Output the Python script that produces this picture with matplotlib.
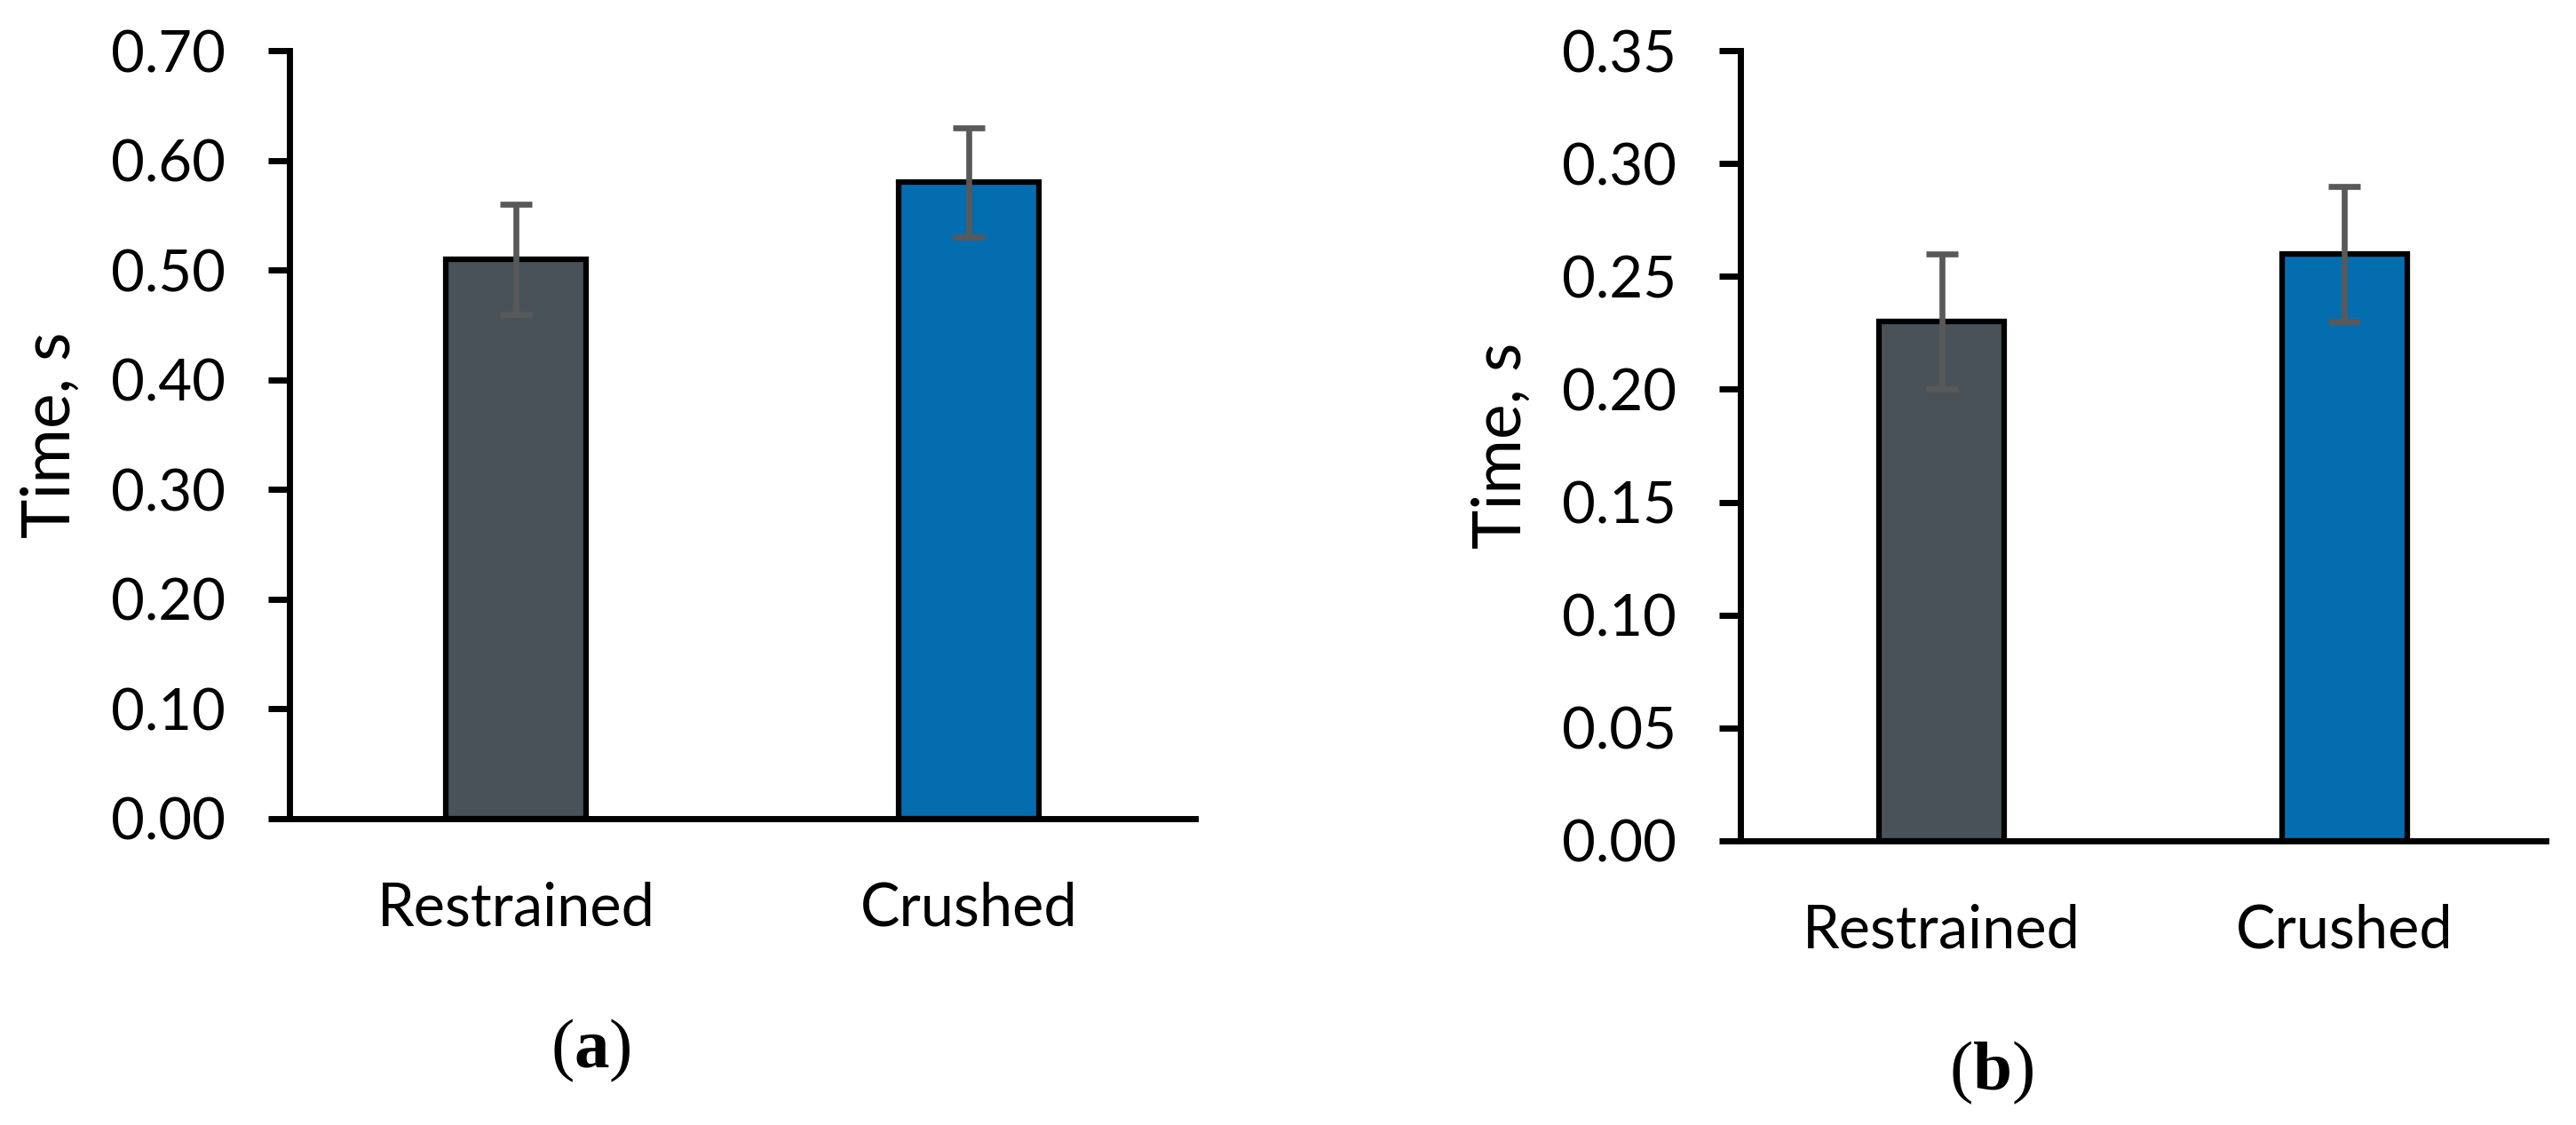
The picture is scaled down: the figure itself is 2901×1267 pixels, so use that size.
import numpy as np
import matplotlib
matplotlib.use("Agg")
import matplotlib.pyplot as plt

plt.rcParams['font.family'] = ['Lato', 'DejaVu Sans']
plt.rcParams['mathtext.fontset'] = 'custom'
plt.rcParams['mathtext.rm'] = 'Liberation Serif'
plt.rcParams['mathtext.bf'] = 'Liberation Serif:bold'

groups = ['Restrained', 'Crushed']
colors = ['#4a5259', '#036daf']

time_a = [0.51, 0.58]
err_a = [0.05, 0.05]
time_b = [0.23, 0.26]
err_b = [0.03, 0.03]

ticks_a = [0.0, 0.1, 0.2, 0.3, 0.4, 0.5, 0.6, 0.7]
ticks_b = [0.0, 0.05, 0.10, 0.15, 0.20, 0.25, 0.30, 0.35]

fig = plt.figure(figsize=(29.01, 12.67), dpi=100)
ax1 = fig.add_axes([0.1124, 0.2723, 0.3516, 0.6827])
ax2 = fig.add_axes([0.6756, 0.2526, 0.3127, 0.7024])


def draw(ax, vals, errs, yticks):
    x = np.arange(len(groups))
    ax.bar(x, vals, width=0.31, color=colors, edgecolor='black', linewidth=4.5, zorder=2)
    ax.errorbar(x, vals, yerr=errs, fmt='none', ecolor='#595959', elinewidth=4.8,
                capsize=13, capthick=4.8, zorder=3)
    ax.set_xlim(-0.5, len(groups) - 0.5)
    ax.set_ylim(yticks[0], yticks[-1])
    ax.set_yticks(yticks)
    ax.set_yticklabels(['%.2f' % t for t in yticks])
    ax.set_xticks(x)
    ax.set_xticklabels(groups)
    ax.tick_params(axis='y', length=17, width=5, pad=35, labelsize=47)
    ax.tick_params(axis='x', length=0, pad=51, labelsize=48)
    for s in ['top', 'right']:
        ax.spines[s].set_visible(False)
    for s in ['left', 'bottom']:
        ax.spines[s].set_linewidth(5)
    ax.set_ylabel('Time, s', fontsize=54, labelpad=24)


draw(ax1, time_a, err_a, ticks_a)
draw(ax2, time_b, err_b, ticks_b)

fig.text(665 / 2901, 1 - 1202 / 1267, r'$\mathrm{(}\mathbf{a}\mathrm{)}$', fontsize=57,
         ha='center', va='baseline')
fig.text(2243 / 2901, 1 - 1227 / 1267, r'$\mathrm{(}\mathbf{b}\mathrm{)}$', fontsize=57,
         ha='center', va='baseline')

fig.savefig('out.png', dpi=100)
